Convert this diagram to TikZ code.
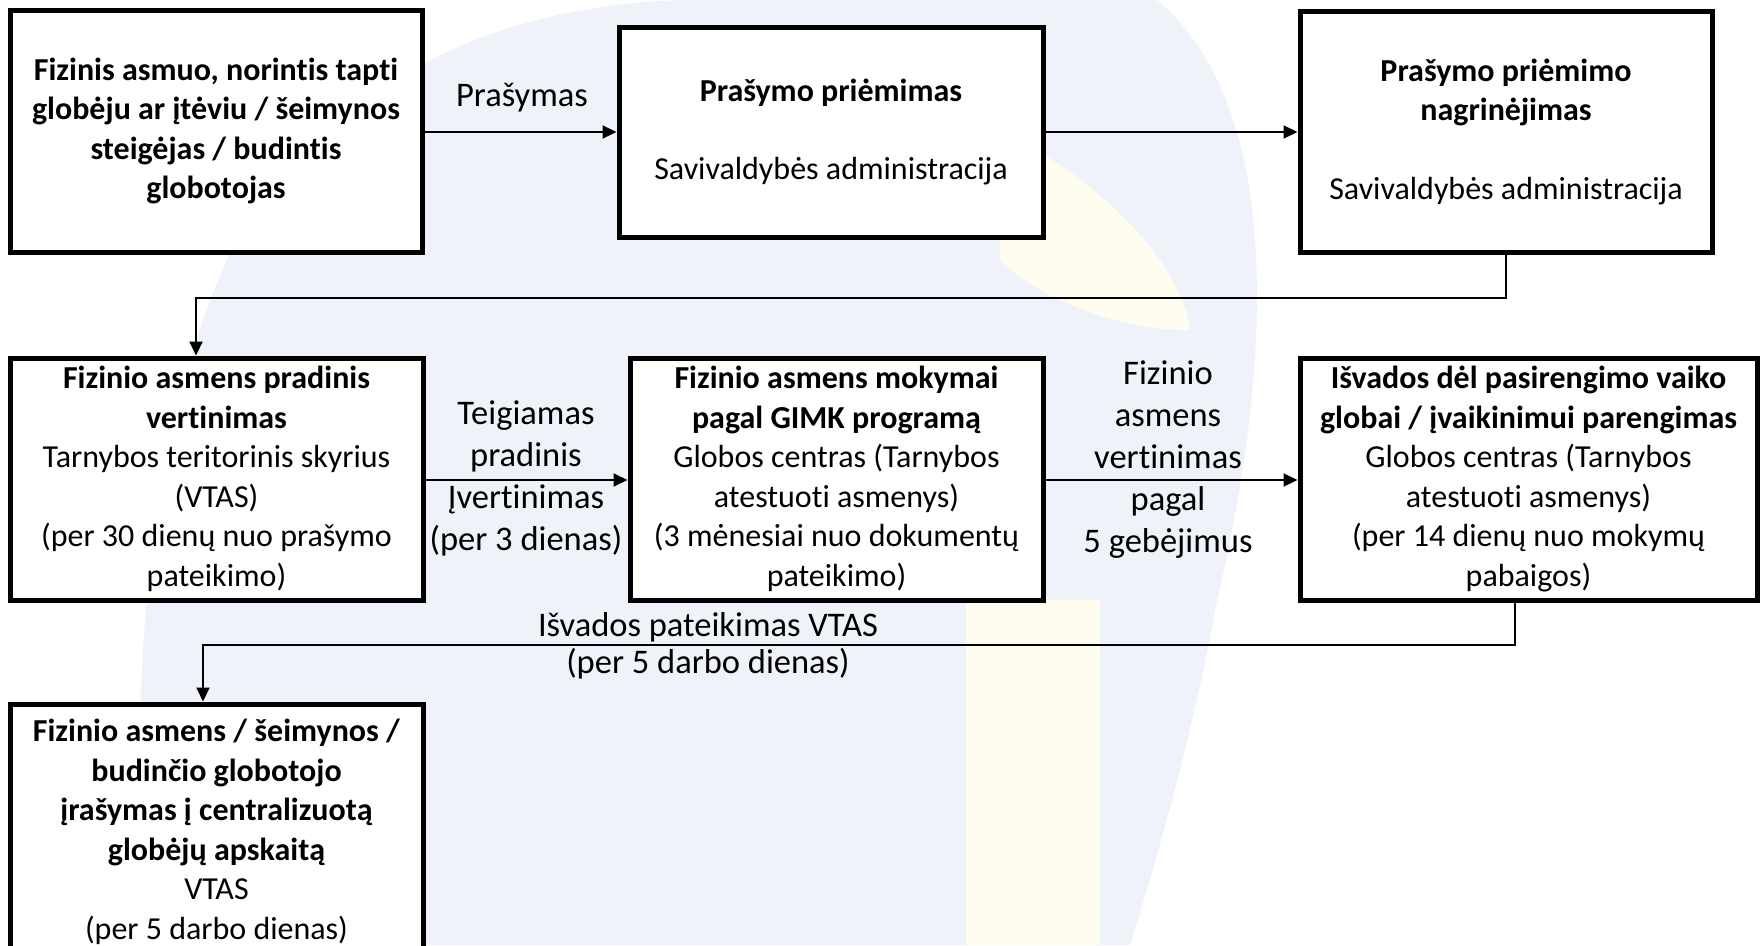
\documentclass[tikz,border=0pt]{standalone}
\usepackage{fontspec}
\setmainfont[Ligatures=NoCommon,RawFeature={-liga;-clig}]{Carlito}
\usetikzlibrary{arrows.meta}
\definecolor{wmblue}{HTML}{F0F2FA}
\definecolor{wmyellow}{HTML}{FFFDF0}
\tikzset{
  box/.style={draw=black, line width=5pt, fill=white, align=center, inner sep=4pt,
    font=\fontsize{32}{39.5}\selectfont},
  lbl/.style={align=center, inner sep=0pt, font=\fontsize{34.5}{42}\selectfont},
  conn/.style={draw=black, line width=2pt},
  arr/.style={conn, -{Triangle[length=14pt,width=13pt]}}
}
\begin{document}
\begin{tikzpicture}[x=1pt,y=-1pt]
\useasboundingbox (0,0) rectangle (1764,945);
\clip (0,0) rectangle (1764,945);
\fill[white] (0,0) rectangle (1764,945);
% faint watermark background
\fill[wmblue] (1157,0) .. controls (1300,120) and (1260,420) .. (1217,600)
  .. controls (1190,750) and (1150,880) .. (1130,945) -- (150,945)
  .. controls (120,700) and (150,300) .. (300,150) .. controls (420,40) and (560,0) .. (700,0) -- cycle;
\fill[wmyellow] (1000,130) .. controls (1100,180) and (1180,260) .. (1190,330)
  .. controls (1120,330) and (1040,300) .. (1000,260) -- cycle;
\fill[wmyellow] (966,600) rectangle (1100,945);

\node[box, minimum width=412, minimum height=242] (b1) at (216,131)
  {\textbf{Fizinis asmuo, norintis tapti}\\\textbf{globėju ar įtėviu / šeimynos}\\\textbf{steigėjas / budintis}\\\textbf{globotojas}};
\node[box, minimum width=424, minimum height=210] (b2) at (831,132)
  {\textbf{Prašymo priėmimas}\\[39pt]Savivaldybės administracija};
\node[box, minimum width=412, minimum height=241] (b3) at (1506,131.5)
  {\textbf{Prašymo priėmimo}\\\textbf{nagrinėjimas}\\[39pt]Savivaldybės administracija};

\node[box, minimum width=413, minimum height=242] (b4) at (216.5,479)
  {\textbf{Fizinio asmens pradinis}\\\textbf{vertinimas}\\Tarnybos teritorinis skyrius\\(VTAS)\\(per 30 dienų nuo prašymo\\pateikimo)};
\node[box, minimum width=413, minimum height=242] (b5) at (836.5,479)
  {\textbf{Fizinio asmens mokymai}\\\textbf{pagal GIMK programą}\\Globos centras (Tarnybos\\atestuoti asmenys)\\(3 mėnesiai nuo dokumentų\\pateikimo)};
\node[box, minimum width=457, minimum height=242] (b6) at (1528.5,479)
  {\textbf{Išvados dėl pasirengimo vaiko}\\\textbf{globai / įvaikinimui parengimas}\\Globos centras (Tarnybos\\atestuoti asmenys)\\(per 14 dienų nuo mokymų\\pabaigos)};

\node[box, minimum width=413, minimum height=256] (b7) at (216.5,832)
  {\textbf{Fizinio asmens / šeimynos /}\\\textbf{budinčio globotojo}\\\textbf{įrašymas į centralizuotą}\\\textbf{globėjų apskaitą}\\VTAS\\(per 5 darbo dienas)};

% labels
\node[lbl] (l1) at (522,98) {Prašymas};
\node[lbl] (l2) at (526,478) {Teigiamas\\pradinis\\Įvertinimas\\(per 3 dienas)};
\node[lbl] (l3) at (1168,460) {Fizinio\\asmens\\vertinimas\\pagal\\5 gebėjimus};
\node[lbl] (l4) at (708,627) {Išvados pateikimas VTAS};
\node[lbl] (l5) at (708,664) {(per 5 darbo dienas)};

% connectors
\coordinate (k1) at (196,298);
\coordinate (k2) at (1515,645);
\coordinate (k3) at (203,645);
\draw[arr] (b1.east |- 0,132) -- (b2.west |- 0,132);
\draw[arr] (b2.east |- 0,132) -- (b3.west |- 0,132);
\draw[arr] (b3.south) |- (k1) -- (k1 |- b4.north);
\draw[arr] (b4.east |- 0,480) -- (b5.west |- 0,480);
\draw[arr] (b5.east |- 0,480) -- (b6.west |- 0,480);
\draw[arr] (k2 |- b6.south) -- (k2) -- (k3) -- (k3 |- b7.north);
\end{tikzpicture}
\end{document}
